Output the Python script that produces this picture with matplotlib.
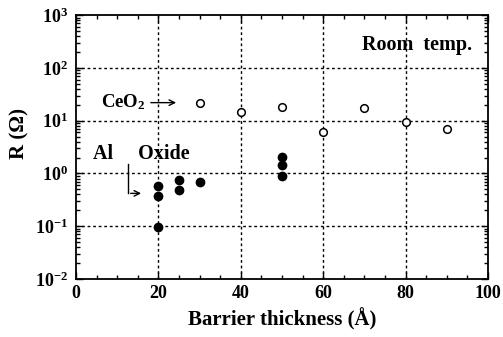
import numpy as np
import matplotlib
matplotlib.use('Agg')
import matplotlib.pyplot as plt
import matplotlib.ticker as ticker

''' data read off the figure '''
ceo2_thick = [30, 40, 50, 60, 70, 80, 90]
ceo2_r     = [22, 14.7, 18, 6.0, 17.3, 9.4, 6.9]

alox_thick = [20, 20, 20, 25, 25, 30, 50, 50, 50]
alox_r     = [0.57, 0.37, 0.096, 0.76, 0.48, 0.68, 2.07, 1.46, 0.89]

xticks = [0, 20, 40, 60, 80, 100]
yticks = [1e-2, 1e-1, 1e0, 1e1, 1e2, 1e3]

plt.rcParams['font.family'] = ['Liberation Serif', 'DejaVu Serif']
plt.rcParams['font.weight'] = 'bold'
plt.rcParams['mathtext.fontset'] = 'custom'
plt.rcParams['mathtext.rm'] = 'Liberation Serif:bold'
plt.rcParams['mathtext.bf'] = 'Liberation Serif:bold'
plt.rcParams['mathtext.it'] = 'Liberation Serif:bold'
plt.rcParams['mathtext.default'] = 'bf'

fig = plt.figure(figsize=(5.03, 3.37), dpi=100)
fig.set_facecolor('w')
ax = fig.add_axes([0.151, 0.172, 0.819, 0.783])

ax.plot(ceo2_thick, ceo2_r, 'o', mfc='w', mec='k', ms=5.5, mew=1.1)
ax.plot(alox_thick, alox_r, 'o', mfc='k', mec='k', ms=6)

ax.set_yscale('log')
ax.set_xlim(0, 100)
ax.set_ylim(1e-2, 1e3)
ax.set_xticks(xticks)
ax.set_yticks(yticks)
ax.set_xticklabels(['%d' % v for v in xticks], fontsize=13)
ax.set_yticklabels([r'$\mathbf{10^{%d}}$' % int(np.log10(v)) for v in yticks], fontsize=13)
ax.xaxis.set_minor_locator(ticker.MultipleLocator(5))
ax.yaxis.set_minor_locator(ticker.LogLocator(base=10, subs=np.arange(2, 10), numticks=20))
ax.yaxis.set_minor_formatter(ticker.NullFormatter())
ax.tick_params(which='both', direction='in', top=True, right=True, width=1.0)
ax.tick_params(which='major', length=5)
ax.tick_params(axis='x', which='major', pad=4)
ax.tick_params(axis='y', which='major', pad=6)
ax.tick_params(which='minor', length=3)

for s in ax.spines.values():
    s.set_linewidth(1.3)

''' dotted grid '''
for xv in [20, 40, 60, 80]:
    ax.axvline(xv, color='k', ls=(0, (2, 2)), lw=1.0, zorder=0)
for yv in [1e-1, 1e0, 1e1, 1e2]:
    ax.axhline(yv, color='k', ls=(0, (2, 2)), lw=1.0, zorder=0)

ax.set_xlabel('Barrier thickness (Å)', fontsize=15, fontweight='bold', labelpad=5)
ax.set_ylabel('R (Ω)', fontsize=15, fontweight='bold')
ax.yaxis.set_label_coords(-0.112, 0.553)

ax.text(69.5, 270, 'Room  temp.', fontsize=14.5, fontweight='bold', va='center')
ax.text(6, 22, r'CeO$_\mathbf{2}$', fontsize=13.5, fontweight='bold', va='center')
ax.annotate('', xy=(25, 22), xytext=(17.5, 22),
            arrowprops=dict(arrowstyle='->', color='k', lw=1.0))
ax.text(4.2, 2.3, 'Al     Oxide', fontsize=14.5, fontweight='bold', va='center')
ax.plot([12.6, 12.6], [1.5, 0.42], 'k-', lw=1.0)
ax.annotate('', xy=(16.5, 0.42), xytext=(12.6, 0.42),
            arrowprops=dict(arrowstyle='->', color='k', lw=1.0))

plt.savefig('out.png', dpi=100)
